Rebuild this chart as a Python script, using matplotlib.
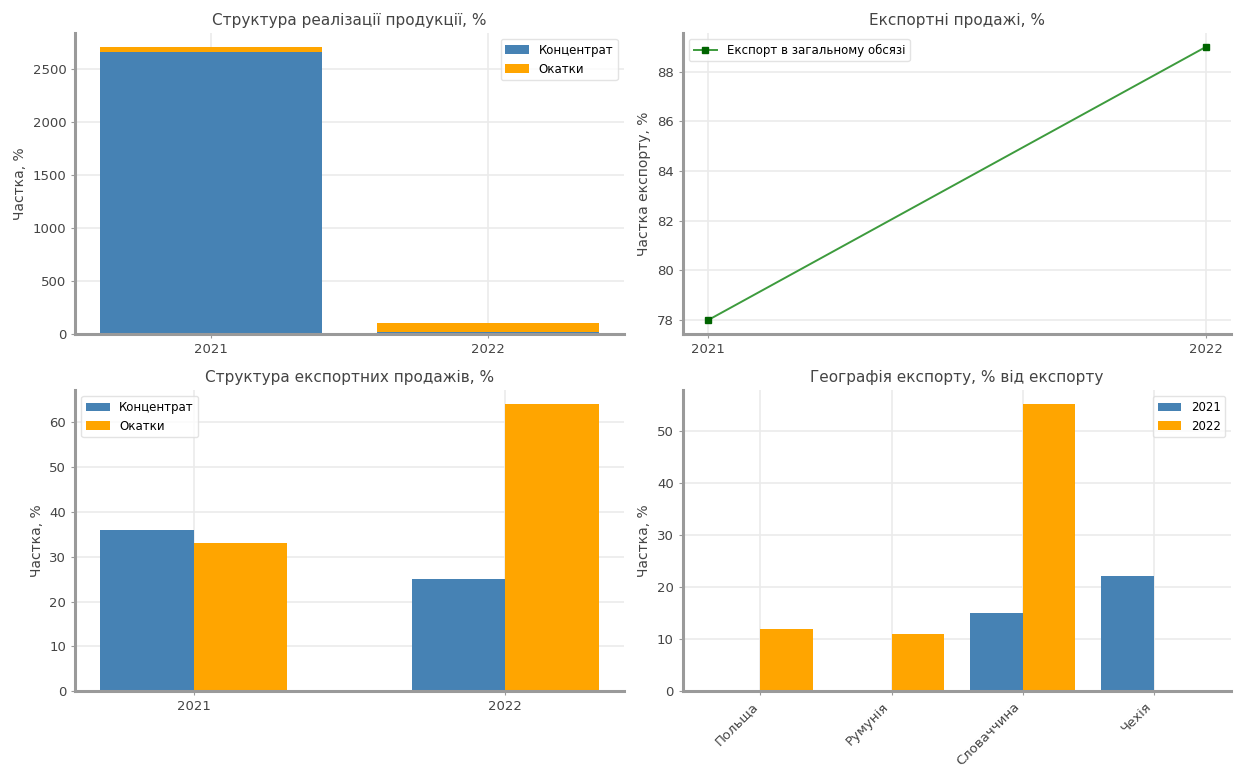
import matplotlib
matplotlib.use("Agg")
import matplotlib.pyplot as plt
import numpy as np

years = ["2021", "2022"]
year_nums = [2021, 2022]

# structure of sales (stacked)
sales_conc = [2660, 15]
sales_pell = [45, 85]

# export share of total
export_share = [78, 89]

# structure of export sales
exp_conc = [36, 25]
exp_pell = [33, 64]

# geography of export
countries = ["Польща", "Румунія", "Словаччина", "Чехія"]
geo_2021 = [0, 0, 15, 22]
geo_2022 = [12, 11, 55, 0]

BLUE = "#4682B4"
ORANGE = "#FFA500"
SPINE = "#9a9a9a"
TXT = "#444444"

plt.rcParams["font.family"] = ["DejaVu Sans"]


def style(ax):
    for s in ["top", "right"]:
        ax.spines[s].set_visible(False)
    for s in ["left", "bottom"]:
        ax.spines[s].set_color(SPINE)
        ax.spines[s].set_linewidth(2.2)
    ax.grid(True, color="#ebebeb", linewidth=1.2)
    ax.set_axisbelow(True)
    ax.tick_params(colors=SPINE, labelcolor=TXT, labelsize=9.5, length=3)


fig, axs = plt.subplots(2, 2, figsize=(12.35, 7.67), dpi=100)
fig.subplots_adjust(left=0.061, right=0.997, top=0.957, bottom=0.099,
                    wspace=0.108, hspace=0.187)

# 1. structure of sales
ax = axs[0, 0]
x = np.arange(len(years))
ax.bar(x, sales_conc, width=0.8, color=BLUE, label="Концентрат")
ax.bar(x, sales_pell, width=0.8, bottom=sales_conc, color=ORANGE, label="Окатки")
ax.set_xticks(x)
ax.set_xticklabels(years)
ax.set_title("Структура реалізації продукції, %", fontsize=11, color=TXT)
ax.set_ylabel("Частка, %", fontsize=10, color=TXT)
style(ax)
ax.legend(loc="upper right", fontsize=8.5, edgecolor="#dddddd")

# 2. export share
ax = axs[0, 1]
ax.plot(year_nums, export_share, color="#3d9b3d", linewidth=1.4, marker="s",
        markersize=4, markerfacecolor="darkgreen", markeredgecolor="darkgreen",
        label="Експорт в загальному обсязі")
ax.set_xticks(year_nums)
ax.set_xticklabels(years)
ax.set_title("Експортні продажі, %", fontsize=11, color=TXT)
ax.set_ylabel("Частка експорту, %", fontsize=10, color=TXT)
style(ax)
ax.legend(loc="upper left", fontsize=8.5, edgecolor="#dddddd")

# 3. structure of export sales
ax = axs[1, 0]
w = 0.3
ax.bar(x - w / 2, exp_conc, width=w, color=BLUE, label="Концентрат")
ax.bar(x + w / 2, exp_pell, width=w, color=ORANGE, label="Окатки")
ax.set_xticks(x)
ax.set_xticklabels(years)
ax.set_title("Структура експортних продажів, %", fontsize=11, color=TXT)
ax.set_ylabel("Частка, %", fontsize=10, color=TXT)
style(ax)
ax.legend(loc="upper left", fontsize=8.5, edgecolor="#dddddd")

# 4. geography of export
ax = axs[1, 1]
xc = np.arange(len(countries))
w = 0.4
ax.bar(xc - w / 2, geo_2021, width=w, color=BLUE, label="2021")
ax.bar(xc + w / 2, geo_2022, width=w, color=ORANGE, label="2022")
ax.set_xticks(xc)
ax.set_xticklabels(countries, rotation=45, ha="right")
ax.set_title("Географія експорту, % від експорту", fontsize=11, color=TXT)
ax.set_ylabel("Частка, %", fontsize=10, color=TXT)
style(ax)
ax.legend(loc="upper right", fontsize=8.5, edgecolor="#dddddd")

fig.savefig("out.png", dpi=100)
